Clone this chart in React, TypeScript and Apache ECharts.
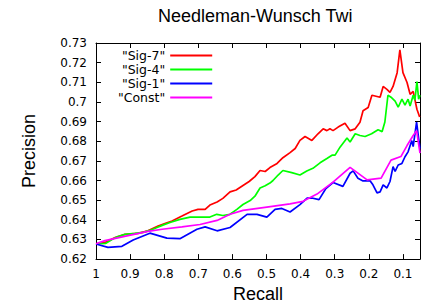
import React, { useEffect, useRef } from "react";
import * as echarts from "echarts";

const xTickValues = [1, 0.9, 0.8, 0.7, 0.6, 0.5, 0.4, 0.3, 0.2, 0.1];

const seriesNames = ['"Sig-7"', '"Sig-4"', '"Sig-1"', '"Const"'];
const seriesColors = ["#ff0000", "#00ff00", "#0000ff", "#ff00ff"];

const sig7Recall = [1.0, 0.974, 0.944, 0.915, 0.877, 0.848, 0.818, 0.798, 0.777, 0.748, 0.718, 0.701, 0.68, 0.666, 0.645, 0.628, 0.607, 0.589, 0.569, 0.551, 0.534, 0.519, 0.504, 0.49, 0.469, 0.452, 0.431, 0.416, 0.402, 0.387, 0.367, 0.349, 0.334, 0.323, 0.314, 0.305, 0.29, 0.27, 0.255, 0.24, 0.226, 0.217, 0.202, 0.191, 0.179, 0.167, 0.158, 0.147, 0.138, 0.129, 0.117, 0.109, 0.1, 0.088, 0.079, 0.07, 0.059, 0.051];
const sig7Precision = [0.6277, 0.6285, 0.631, 0.6326, 0.6331, 0.6344, 0.6368, 0.6381, 0.6394, 0.6419, 0.6445, 0.6453, 0.6453, 0.6475, 0.6491, 0.6509, 0.6542, 0.6552, 0.6575, 0.6595, 0.662, 0.6651, 0.6646, 0.6666, 0.6687, 0.6716, 0.6742, 0.6763, 0.6804, 0.6824, 0.6804, 0.6838, 0.6863, 0.6854, 0.6863, 0.6854, 0.6872, 0.6892, 0.6854, 0.6863, 0.6897, 0.6955, 0.6972, 0.7034, 0.7029, 0.7024, 0.7079, 0.7064, 0.7049, 0.7079, 0.7149, 0.7265, 0.7149, 0.7099, 0.7039, 0.7054, 0.6963, 0.6923];

const sig4Recall = [1.0, 0.971, 0.953, 0.938, 0.915, 0.886, 0.862, 0.842, 0.821, 0.804, 0.783, 0.754, 0.724, 0.695, 0.666, 0.646, 0.628, 0.607, 0.587, 0.569, 0.548, 0.534, 0.519, 0.504, 0.49, 0.481, 0.466, 0.452, 0.426, 0.402, 0.382, 0.364, 0.343, 0.323, 0.308, 0.299, 0.284, 0.264, 0.255, 0.24, 0.226, 0.211, 0.192, 0.173, 0.161, 0.153, 0.144, 0.135, 0.123, 0.114, 0.103, 0.094, 0.085, 0.079, 0.07, 0.065, 0.059, 0.054, 0.05];
const sig4Precision = [0.6277, 0.628, 0.63, 0.6314, 0.6326, 0.6331, 0.6336, 0.6346, 0.6361, 0.6373, 0.6386, 0.6402, 0.6414, 0.6414, 0.6414, 0.6428, 0.6422, 0.6428, 0.6453, 0.6478, 0.6498, 0.652, 0.6562, 0.6573, 0.6587, 0.66, 0.6628, 0.6651, 0.664, 0.6628, 0.6648, 0.6662, 0.669, 0.6712, 0.6729, 0.6729, 0.6771, 0.6816, 0.6796, 0.6838, 0.6829, 0.6824, 0.6838, 0.6858, 0.6849, 0.6898, 0.7034, 0.7024, 0.7004, 0.6973, 0.7014, 0.6984, 0.7014, 0.6979, 0.7034, 0.7009, 0.7104, 0.7014, 0.7034];

const sig1Recall = [1.0, 0.965, 0.924, 0.891, 0.842, 0.792, 0.754, 0.704, 0.68, 0.645, 0.607, 0.557, 0.528, 0.499, 0.475, 0.455, 0.431, 0.402, 0.381, 0.367, 0.346, 0.326, 0.305, 0.276, 0.255, 0.246, 0.232, 0.217, 0.196, 0.188, 0.176, 0.167, 0.158, 0.147, 0.138, 0.129, 0.123, 0.114, 0.103, 0.094, 0.085, 0.074, 0.07, 0.06, 0.055, 0.05];
const sig1Precision = [0.6277, 0.626, 0.6265, 0.6297, 0.6332, 0.6307, 0.6304, 0.6352, 0.6364, 0.6344, 0.6361, 0.6428, 0.6428, 0.6414, 0.6453, 0.6458, 0.644, 0.6477, 0.651, 0.6511, 0.6503, 0.6559, 0.659, 0.657, 0.6637, 0.6649, 0.6612, 0.6598, 0.6598, 0.6578, 0.6537, 0.6542, 0.6578, 0.6562, 0.6595, 0.6671, 0.6646, 0.6679, 0.6687, 0.6721, 0.6746, 0.6803, 0.6773, 0.6897, 0.6829, 0.6763];

const constRecall = [1.0, 0.974, 0.848, 0.806, 0.748, 0.695, 0.645, 0.607, 0.569, 0.499, 0.431, 0.393, 0.352, 0.305, 0.255, 0.205, 0.164, 0.135, 0.106, 0.088, 0.07, 0.06, 0.05];
const constPrecision = [0.6278, 0.6294, 0.6341, 0.6352, 0.6364, 0.6376, 0.6397, 0.6428, 0.6448, 0.6465, 0.6481, 0.6494, 0.6531, 0.6592, 0.6667, 0.6603, 0.6612, 0.6704, 0.6722, 0.6778, 0.6829, 0.6854, 0.674];

const recallSets = [sig7Recall, sig4Recall, sig1Recall, constRecall];
const precisionSets = [sig7Precision, sig4Precision, sig1Precision, constPrecision];

export default function App() {
  const ref = useRef<HTMLDivElement>(null);
  useEffect(() => {
    const chart = echarts.init(ref.current!, null, { renderer: "svg" });
    const fmt = (v: number) => String(parseFloat(Number(v).toFixed(2)));
    const black = "#000";
    const line = { show: true, onZero: false, lineStyle: { color: black, width: 1 } };
    const tick = { show: true, inside: true, length: 5, lineStyle: { color: black, width: 1 } };
    const tickFont = { fontFamily: "DejaVu Sans", fontSize: 12, color: black };
    const nameFont = { fontFamily: "Liberation Sans", fontSize: 18, color: black };
    chart.setOption({
      animation: false,
      backgroundColor: "#ffffff",
      title: {
        text: "Needleman-Wunsch Twi",
        left: 158,
        top: 7,
        padding: 0,
        textStyle: { ...nameFont, fontWeight: "normal" },
      },
      legend: {
        orient: "vertical",
        align: "right",
        left: 118,
        top: 49,
        padding: 0,
        itemWidth: 42,
        itemHeight: 2,
        itemGap: 1,
        icon: "rect",
        textStyle: { fontFamily: "DejaVu Sans", fontSize: 12.5, color: black, lineHeight: 12 },
        data: seriesNames,
      },
      grid: { left: 96, right: 21, top: 43, bottom: 46 },
      xAxis: [
        {
          type: "value",
          inverse: true,
          min: 0.05,
          max: 1,
          position: "bottom",
          name: "Recall",
          nameLocation: "middle",
          nameGap: 25,
          nameTextStyle: nameFont,
          axisLine: line,
          axisTick: { ...tick, customValues: xTickValues },
          axisLabel: { ...tickFont, customValues: xTickValues, formatter: fmt, margin: 9 },
          splitLine: { show: false },
        },
        {
          type: "value",
          inverse: true,
          min: 0.05,
          max: 1,
          position: "top",
          axisLine: line,
          axisTick: { ...tick, customValues: xTickValues },
          axisLabel: { show: false },
          splitLine: { show: false },
        },
      ],
      yAxis: [
        {
          type: "value",
          min: 0.62,
          max: 0.73,
          interval: 0.01,
          position: "left",
          name: "Precision",
          nameLocation: "middle",
          nameGap: 58,
          nameTextStyle: nameFont,
          axisLine: line,
          axisTick: tick,
          axisLabel: { ...tickFont, formatter: fmt, margin: 9 },
          splitLine: { show: false },
        },
        {
          type: "value",
          min: 0.62,
          max: 0.73,
          interval: 0.01,
          position: "right",
          axisLine: line,
          axisTick: tick,
          axisLabel: { show: false },
          splitLine: { show: false },
        },
      ],
      series: seriesNames.map((name, i) => ({
        name,
        type: "line",
        xAxisIndex: 0,
        yAxisIndex: 0,
        showSymbol: false,
        symbol: "none",
        color: seriesColors[i],
        lineStyle: { color: seriesColors[i], width: 1.7 },
        data: recallSets[i].map((r, j) => [r, precisionSets[i][j]]),
      })),
    });
    return () => chart.dispose();
  }, []);
  return <div ref={ref} style={{ position: "fixed", left: 0, top: 0, width: 441, height: 308 }} />;
}
